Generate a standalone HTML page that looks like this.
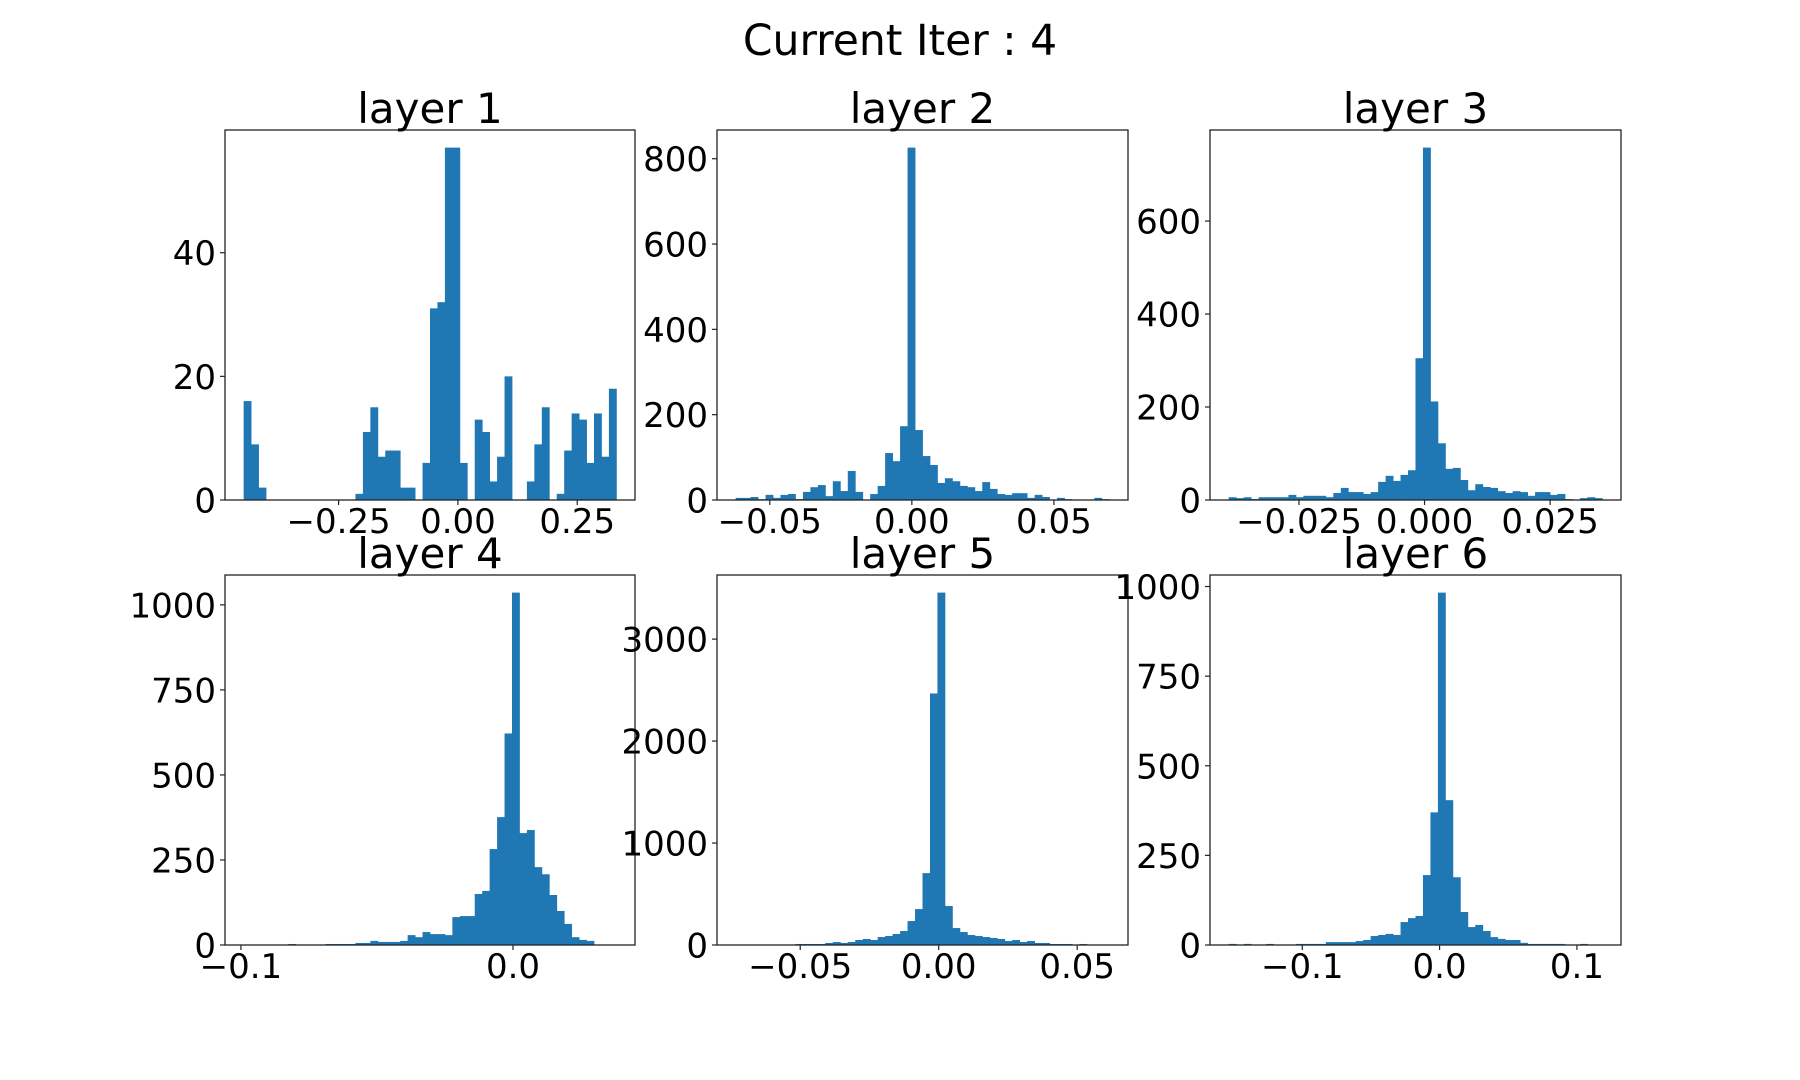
<!DOCTYPE html>
<html><head><meta charset="utf-8">
<style>
html,body{margin:0;padding:0;background:#fff;}
svg{display:block;font-family:"DejaVu Sans","Liberation Sans",sans-serif;}
</style></head>
<body>
<svg id="fig" width="1800" height="1080" viewBox="0 0 1800 1080" xmlns="http://www.w3.org/2000/svg">
<rect x="0" y="0" width="1800" height="1080" fill="#fff"/>
<text x="900" y="55" font-size="42.5" text-anchor="middle" fill="#000">Current Iter : 4</text>
</svg>
<script>
// ---- data (counts per bin, 50 bins each) ----
const layer1Counts = [16,9,2,0,0,0,0,0,0,0,0,0,0,0,0,1,11,15,7,8,8,2,2,0,6,31,32,57,57,6,0,13,11,3,7,20,0,0,3,9,15,0,1,8,14,13,6,14,7,18];
const layer2Counts = [5,5,7,2,12,5,12,14,2,19,30,35,9,44,21,68,19,0,14,33,110,91,173,826,164,103,82,40,51,44,33,30,21,42,26,14,12,16,16,5,12,7,0,5,2,1,0,0,5,2];
const layer3Counts = [6,4,6,2,6,6,6,6,11,6,9,9,9,6,15,26,17,17,13,17,39,52,41,54,64,305,758,212,122,67,69,43,21,34,28,26,19,15,19,17,9,17,17,11,13,2,0,4,6,4];
const layer4Counts = [1,0,0,0,0,0,3,0,0,0,0,3,3,3,3,6,6,12,9,9,9,12,29,23,38,32,32,29,82,85,85,150,159,282,376,622,1036,329,338,229,208,147,100,62,23,15,12,0,0,1];
const layer5Counts = [1,0,0,0,0,0,0,0,10,10,10,10,20,29,20,29,49,59,49,78,88,108,137,235,352,705,2467,3456,382,166,127,98,88,78,69,59,39,49,29,39,20,20,10,10,10,0,10,0,0,1];
const layer6Counts = [3,0,3,0,0,3,0,0,0,3,3,3,3,8,8,8,8,11,14,25,28,31,28,64,75,81,195,370,983,404,189,92,50,56,39,22,17,14,14,6,3,3,3,3,3,0,0,3,0,1];
const dataMins = [-0.449,-0.0620,-0.0390,-0.099,-0.0733,-0.1536];
const dataMaxs = [0.332,0.0695,0.0354,0.038,0.0616,0.1185];
const xTickValues = [[-0.25,0,0.25],[-0.05,0,0.05],[-0.025,0,0.025],[-0.1,0],[-0.05,0,0.05],[-0.1,0,0.1]];
const xTickLabels = [["\u22120.25","0.00","0.25"],["\u22120.05","0.00","0.05"],["\u22120.025","0.000","0.025"],["\u22120.1","0.0"],["\u22120.05","0.00","0.05"],["\u22120.1","0.0","0.1"]];
const yTickValues = [[0,20,40],[0,200,400,600,800],[0,200,400,600],[0,250,500,750,1000],[0,1000,2000,3000],[0,250,500,750,1000]];
const titles = ["layer 1","layer 2","layer 3","layer 4","layer 5","layer 6"];
const allCounts = [layer1Counts,layer2Counts,layer3Counts,layer4Counts,layer5Counts,layer6Counts];

// ---- layout ----
const boxes = [
  {l:225,r:635,t:130,b:500},{l:717,r:1128,t:130,b:500},{l:1210,r:1621,t:130,b:500},
  {l:225,r:635,t:575,b:945},{l:717,r:1128,t:575,b:945},{l:1210,r:1621,t:575,b:945}
];
const NS="http://www.w3.org/2000/svg";
const svg=document.getElementById('fig');
function mk(tag,attrs,parent){const e=document.createElementNS(NS,tag);for(const k in attrs)e.setAttribute(k,attrs[k]);(parent||svg).appendChild(e);return e;}

for(let p=0;p<6;p++){
  const counts=allCounts[p], b=boxes[p];
  const lo=dataMins[p], hi=dataMaxs[p], span=hi-lo;
  const xmin=lo-0.05*span, xmax=hi+0.05*span;
  let cmax=0; counts.forEach(c=>{if(c>cmax)cmax=c;});
  const ymax=cmax*1.05;
  const xs=v=>b.l+(v-xmin)/(xmax-xmin)*(b.r-b.l);
  const ys=v=>b.b-v/ymax*(b.b-b.t);
  const g=mk('g',{});
  
  
  const n=counts.length, bw=span/n;
  for(let i=0;i<n;i++){
    if(counts[i]<=0)continue;
    const x0=xs(lo+i*bw), x1=xs(lo+(i+1)*bw), y=ys(counts[i]);
    const r=mk('rect',{x:x0,y:y,width:x1-x0+0.4,height:b.b-y,fill:'#1f77b4'},g);
    
    
  }
  const fr=mk('rect',{x:b.l,y:b.t,width:b.r-b.l,height:b.b-b.t,fill:'none',stroke:'#222','stroke-width':1.3},g);
  
  
  xTickValues[p].forEach((v,k)=>{
    const x=xs(v);
    mk('line',{x1:x,x2:x,y1:b.b,y2:b.b+5,stroke:'#222','stroke-width':1.2},g);
    const t=mk('text',{x:x,y:b.b+33,'font-size':34,'text-anchor':'middle',fill:'#000'},g);
    t.textContent=xTickLabels[p][k];
    
    
  });
  yTickValues[p].forEach(v=>{
    const y=ys(v);
    mk('line',{x1:b.l-5,x2:b.l,y1:y,y2:y,stroke:'#222','stroke-width':1.2},g);
    const t=mk('text',{x:b.l-9,y:y+12.5,'font-size':34,'text-anchor':'end',fill:'#000'},g);
    t.textContent=String(v);
    
    
  });
  const tt=mk('text',{x:(b.l+b.r)/2,y:b.t-7,'font-size':42,'text-anchor':'middle',fill:'#000'},g);
  tt.textContent=titles[p];
  
  
}
</script>
</body></html>
